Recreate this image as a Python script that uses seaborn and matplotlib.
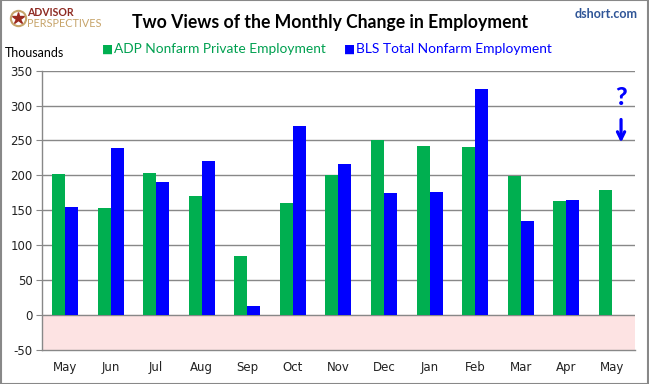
import matplotlib
matplotlib.use("Agg")
import matplotlib.pyplot as plt
import seaborn as sns
import pandas as pd
import numpy as np
from matplotlib.patches import Rectangle
from matplotlib.lines import Line2D

months = ["May", "Jun", "Jul", "Aug", "Sep", "Oct", "Nov", "Dec", "Jan", "Feb", "Mar", "Apr", "May "]
adp = [202, 153, 203, 170, 84, 161, 200, 250, 242, 241, 199, 163, 179]
bls = [155, 239, 190, 220, 13, 270, 216, 175, 176, 323, 134, 165, np.nan]
series_names = ["ADP Nonfarm Private Employment", "BLS Total Nonfarm Employment"]
yticks = [-50, 0, 50, 100, 150, 200, 250, 300, 350]

green = "#00AF50"
blue = "#0000FF"

df = pd.DataFrame({
    "Month": months * 2,
    "Value": adp + bls,
    "Series": [series_names[0]] * len(months) + [series_names[1]] * len(months),
})

sns.set_style("white")
plt.rcParams["font.family"] = ["Lato", "DejaVu Sans"]

fig = plt.figure(figsize=(6.49, 3.84), dpi=100)
ax = fig.add_axes([0.065, 0.089, 0.913, 0.727])

sns.barplot(data=df, x="Month", y="Value", hue="Series", order=months,
            palette=[green, blue], width=0.57, saturation=1, linewidth=0,
            ax=ax, legend=False, zorder=3)

ax.set_ylim(-50, 350)
ax.set_xlim(-0.5, len(months) - 0.5)
ax.set_yticks(yticks)
ax.set_yticklabels([str(t) for t in yticks], fontsize=8.5, family="DejaVu Sans", color="#222222")
ax.set_xticks(range(len(months)))
ax.set_xticklabels([m.strip() for m in months], fontsize=8.5, family="DejaVu Sans", color="#222222")
ax.tick_params(axis="x", length=0, pad=8)
ax.tick_params(axis="y", length=4, width=0.8, color="#888888", direction="out", left=True, pad=3)
ax.set_xlabel("")
ax.set_ylabel("")

ax.axhspan(-50, 0, color="#FDE3E3", zorder=0)
for t in yticks[1:]:
    ax.axhline(t, color="#888888", lw=1, zorder=1)

for s in ["top", "right"]:
    ax.spines[s].set_visible(False)
ax.spines["left"].set_color("#888888")
ax.spines["bottom"].set_color("#888888")
ax.spines["left"].set_linewidth(1)
ax.spines["bottom"].set_linewidth(1)

# question mark and arrow over the pending BLS value
ax.text(12.2, 312, "?", color=blue, fontsize=18, fontweight="black",
        ha="center", va="center", zorder=5)
ax.annotate("", xy=(12.2, 243), xytext=(12.2, 284),
            arrowprops=dict(arrowstyle="->", color=blue, lw=2.3, mutation_scale=13), zorder=5)

# logo
fig.add_artist(Line2D([0.027], [0.953], marker="o", markersize=11, markerfacecolor="none",
                      markeredgecolor="#C7A46A", markeredgewidth=1.5, transform=fig.transFigure))
fig.add_artist(Line2D([0.027], [0.953], marker="*", markersize=9, color="#9B2A1E",
                      transform=fig.transFigure))
fig.text(0.042, 0.968, "ADVISOR", ha="left", va="center", fontsize=7.6,
         fontweight="bold", color="#8E2A22")
fig.text(0.042, 0.938, "PERSPECTIVES", ha="left", va="center", fontsize=7.8,
         color="#C7A46A")

# titles and legend
fig.text(0.203, 0.942, "Two Views of the Monthly Change in Employment", ha="left", va="center",
         fontsize=12.7, fontweight="bold", color="black")
fig.text(0.983, 0.963, "dshort.com", ha="right", va="center", fontsize=9,
         fontweight="bold", color="#2F5597")
fig.text(0.007, 0.862, "Thousands", ha="left", va="center", fontsize=9, color="black")

fig.text(0.157, 0.872, "\u25A0", ha="left", va="center", fontsize=8.5, color=green)
fig.text(0.175, 0.872, series_names[0], ha="left", va="center", fontsize=9.9, color="#00A050")
fig.text(0.530, 0.872, "\u25A0", ha="left", va="center", fontsize=8.5, color=blue)
fig.text(0.548, 0.872, series_names[1], ha="left", va="center", fontsize=9.9, color=blue)

fig.patches.append(Rectangle((0.001, 0.001), 0.998, 0.998, transform=fig.transFigure,
                             facecolor="none", edgecolor="#888888", lw=1.5, figure=fig))

fig.savefig("out.png", dpi=100)
